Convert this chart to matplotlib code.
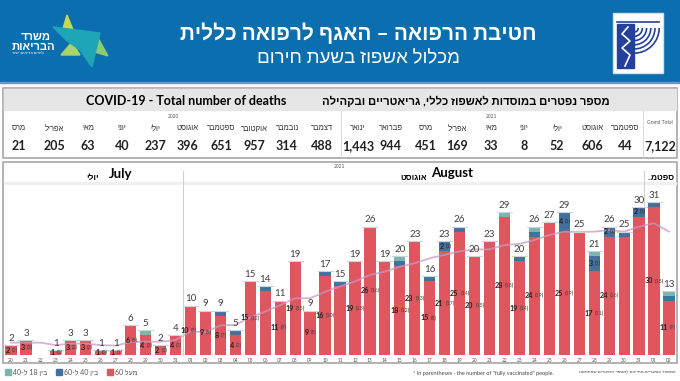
import re
import matplotlib
matplotlib.use("Agg")
import matplotlib.pyplot as plt
from matplotlib.patches import Rectangle, Polygon, Arc

plt.rcParams['font.family'] = ['Lato', 'Liberation Sans', 'DejaVu Sans']

W, H = 680, 381

# top table
months = ["מרס", "אפריל", "מאי", "יוני", "יולי", "אוגוסט", "ספטמבר", "אוקטובר", "נובמבר", "דצמבר",
          "ינואר", "פברואר", "מרס", "אפריל", "מאי", "יוני", "יולי", "אוגוסט", "ספטמבר"]
month_deaths = ["21", "205", "63", "40", "237", "396", "651", "957", "314", "488",
                "1,443", "944", "451", "169", "33", "8", "52", "606", "44"]
month_x = [19, 54, 88, 122, 155, 187, 221, 254, 287, 322, 358, 391, 426, 457, 491, 524, 557, 592, 625]

# daily chart, 20 July to 2 Sept
days = ["20", "21", "22", "23", "24", "25", "26", "27", "28", "29", "30", "31",
        "01", "02", "03", "04", "05", "06", "07", "08", "09", "10", "11", "12", "13", "14", "15", "16",
        "17", "18", "19", "20", "21", "22", "23", "24", "25", "26", "27", "28", "29", "30", "31",
        "01", "02"]
over_60 = [2, 3, 0, 1, 3, 3, 1, 1, 6, 4, 2, 4,
           10, 9, 8, 4, 15, 13, 11, 19, 9, 16, 14, 19, 26, 19, 18, 23,
           15, 21, 25, 20, 23, 28, 19, 24, 27, 25, 25, 17, 24, 24, 28,
           30, 11]
age_40_60 = [0, 0, 0, 0, 0, 0, 0, 0, 0, 0, 0, 0,
             0, 0, 1, 1, 0, 1, 0, 0, 0, 1, 1, 0, 0, 0, 1, 0,
             1, 2, 1, 0, 0, 0, 1, 1, 0, 4, 0, 3, 2, 1, 2,
             1, 1]
age_18_40 = [0, 0, 0, 0, 0, 0, 0, 0, 0, 1, 0, 0,
             0, 0, 0, 0, 0, 0, 0, 0, 0, 0, 0, 0, 0, 0, 1, 0,
             0, 0, 0, 0, 0, 1, 0, 1, 0, 0, 0, 1, 0, 0, 0,
             0, 1]
vacc_over_60 = [2, 3, None, 0, 2, 2, 0, 1, 5, 3, 2, 2,
                8, 5, 7, 2, 12, None, 9, 15, 8, 10, None, 13, 16, None, 12, 13,
                8, 17, 14, 15, None, 18, 14, 19, None, 19, None, 11, 16, None, None,
                15, 9]
# the label on the blue part, where there is one
blue_labels = {29: (2, 1), 37: (4, 1), 39: (3, 1), 40: (2, 1), 42: (2, 1)}
avg_line = [2.5, 2.5, 2.5, 2.0, 2.3, 2.3, 2.0, 1.9, 2.6, 2.7, 2.7, 3.0,
            4.8, 4.6, 6.0, 6.1, 7.6, 8.8, 10.1, 11.5, 11.5, 12.8, 13.9, 14.9, 16.2, 16.9, 17.9, 18.6,
            19.6, 20.3, 21.0, 21.4, 21.4, 22.3, 22.5, 23.3, 24.3, 25.0, 24.9, 25.0, 25.3, 25.0, 26.0,
            26.7, 25.0]

RED = "#DF565F"
BLUE = "#44709F"
TEAL = "#7DB4AE"
LINE = "#C79AC2"
HEADER = "#0B6EAE"
EMBLEM = "#24409A"


def rtl(s):
    # matplotlib has no bidi, so flip the text and put the numbers back
    return re.sub(r"\d+", lambda m: m.group(0)[::-1], s[::-1])


fig = plt.figure(figsize=(W / 100, H / 100), dpi=100)
bg = fig.add_axes([0, 0, 1, 1])
bg.set_xlim(0, W)
bg.set_ylim(H, 0)
bg.axis("off")

# header
bg.add_patch(Rectangle((0, 0), W, 82, color=HEADER))
bg.add_patch(Rectangle((0, 82), W, 1, color="#5F9CC4"))
bg.text(358, 33, rtl("חטיבת הרפואה – האגף לרפואה כללית"), color="white", fontsize=15,
        fontweight="bold", ha="center", va="center")
bg.text(358, 58, rtl("מכלול אשפוז בשעת חירום"), color="white", fontsize=13.5, ha="center", va="center")

# ministry logo
bg.add_patch(Polygon([(67, 15), (74, 32), (62, 32)], color="#C4D84E"))
bg.add_patch(Polygon([(61, 55), (72, 42), (80, 55)], color="#A9D36B"))
bg.add_patch(Polygon([(97, 36), (108, 56), (88, 50)], color="#8CCB6E"))
bg.add_patch(Polygon([(53, 27), (100, 33), (92, 67), (80, 50), (66, 40)], color="#1FA5B8"))
bg.text(36, 36, rtl("משרד"), color="white", fontsize=8, fontweight="bold", ha="center", va="center")
bg.text(33, 46, rtl("הבריאות"), color="white", fontsize=8, fontweight="bold", ha="center", va="center")
bg.text(28, 54, rtl("לחיים בריאים יותר"), color="white", fontsize=3, ha="center", va="center")

# emblem
bg.add_patch(Rectangle((613, 13), 50, 60, fc="white", ec="#CFE2EF", lw=1))
bg.add_patch(Rectangle((617, 24), 17, 44, color=EMBLEM))
bg.plot([617, 659], [22, 22], color=EMBLEM, lw=1.2)
for r in [6, 12, 18, 24, 30, 36]:
    bg.add_patch(Arc((634, 28), r * 1.4, r * 1.4, theta1=0, theta2=90, color=EMBLEM, lw=1.2))
bg.plot([628, 622, 630, 622, 630, 625], [27, 34, 41, 48, 55, 66], color="white", lw=1.2)

# table box
bg.add_patch(Rectangle((3, 88), 674, 70, fc="white", ec="#A6A6A6", lw=1.2))
bg.add_patch(Rectangle((4, 89), 672, 21, color="#E6E6E6"))
bg.text(186, 101, "COVID-19 - Total number of deaths", fontsize=9, fontweight="bold", ha="center", va="center")
bg.text(466, 101, rtl("מספר נפטרים במוסדות לאשפוז כללי, גריאטריים ובקהילה"), fontsize=8.1, fontweight="bold",
        ha="center", va="center")
bg.text(173, 117, "2020", fontsize=3.5, color="#555555", ha="center", va="center")
bg.text(491, 117, "2021", fontsize=3.5, color="#555555", ha="center", va="center")
for name, val, x in zip(months, month_deaths, month_x):
    bg.text(x, 128, rtl(name), fontsize=5.5, color="#333333", ha="center", va="center")
    bg.text(x, 146, val, fontsize=9, fontweight="bold", color="#222222", ha="center", va="center")
bg.text(660, 123, "Grand Total", fontsize=3.5, color="#555555", ha="center", va="center")
bg.text(660, 146, "7,122", fontsize=9, fontweight="bold", color="#222222", ha="center", va="center")
bg.plot([341, 341], [111, 157], color="#D9D9D9", lw=0.7)
bg.plot([643, 643], [111, 157], color="#D9D9D9", lw=0.7)

# chart box
bg.add_patch(Rectangle((3, 162), 674, 201, fc="white", ec="#A6A6A6", lw=1.2))
bg.add_patch(Rectangle((4, 182), 672, 2, color="#F0F0F0"))
bg.plot([183, 183], [171, 355], color="#D0D0D0", lw=0.8)
bg.plot([644, 644], [171, 355], color="#D0D0D0", lw=0.8)
bg.text(339, 167, "2021", fontsize=3.5, color="#555555", ha="center", va="center")
bg.text(121, 174, "July", fontsize=9.5, fontweight="bold", ha="center", va="center")
bg.text(93, 177, rtl("יולי"), fontsize=6, fontweight="bold", ha="center", va="center")
bg.text(452, 173, "August", fontsize=9.5, fontweight="bold", ha="center", va="center")
bg.text(414, 177, rtl("אוגוסט"), fontsize=6, fontweight="bold", ha="center", va="center")
bg.text(661, 177, rtl("ספטמ.."), fontsize=6, fontweight="bold", ha="center", va="center")

# bars
step = (669 - 11) / 44
ppu = (355 - 202) / 31
ax = fig.add_axes([3 / W, (H - 355) / H, 674 / W, (355 - 165) / H], facecolor="none")
ax.set_xlim(-(11 - 3) / step, 44 + (677 - 669) / step)
ax.set_ylim(0, (355 - 165) / ppu)
xs = list(range(len(days)))
bottom_teal = [a + b for a, b in zip(over_60, age_40_60)]
totals = [a + b for a, b in zip(bottom_teal, age_18_40)]

ax.bar(xs, over_60, width=0.75, color=RED, zorder=2)
ax.bar(xs, age_40_60, width=0.75, bottom=over_60, color=BLUE, zorder=2)
ax.bar(xs, age_18_40, width=0.75, bottom=bottom_teal, color=TEAL, zorder=2)
ax.plot(xs, avg_line, color=LINE, lw=1.3, alpha=0.75, zorder=3)

for x, tot, red, vac in zip(xs, totals, over_60, vacc_over_60):
    if tot == 0:
        continue
    ax.plot([x - 0.5, x + 0.5], [tot, tot], color="#CBD5DC", lw=0.8, zorder=3)
    ax.text(x, tot + 0.45, str(tot), fontsize=7, color="#404040", ha="center", va="bottom", zorder=4)
    if vac is not None:
        ax.text(x - 0.07, red / 2, str(red), fontsize=5.2, fontweight="bold", color="#222222", ha="right", va="center", zorder=4)
        ax.text(x + 0.05, red / 2, "(%d)" % vac, fontsize=3.9, color="#444444", ha="left", va="center", zorder=4)
for x, (n, v) in blue_labels.items():
    mid = over_60[x] + age_40_60[x] / 2
    ax.text(x - 0.07, mid, str(n), fontsize=5.2, fontweight="bold", color="#222222", ha="right", va="center", zorder=4)
    ax.text(x + 0.05, mid, "(%d)" % v, fontsize=3.9, color="#333333", ha="left", va="center", zorder=4)

ax.set_xticks(xs)
ax.set_xticklabels(days, fontsize=3.5, color="#555555")
ax.tick_params(axis="x", length=0, pad=2)
ax.set_yticks([])
for s in ax.spines.values():
    s.set_visible(False)

# legend and footers
for x, col, label, tx in [(5, TEAL, "בין 18 ל-40", 13), (56, BLUE, "בין 40 ל-60", 64), (107, RED, "מעל 60", 115)]:
    bg.add_patch(Rectangle((x, 369), 5.5, 6, color=col))
    bg.text(tx, 372, rtl(label), fontsize=5, color="#555555", ha="left", va="center")
bg.text(413, 373, '* In parentheses - the number of "fully vaccinated" people.', fontsize=4, color="#444444",
        ha="left", va="center")
bg.text(676, 373, rtl("המספר בסוגריים מתייחס למספר הנפטרים שהתחסנו"), fontsize=3.2, color="#444444",
        ha="right", va="center")

fig.savefig("out.png", dpi=100)
